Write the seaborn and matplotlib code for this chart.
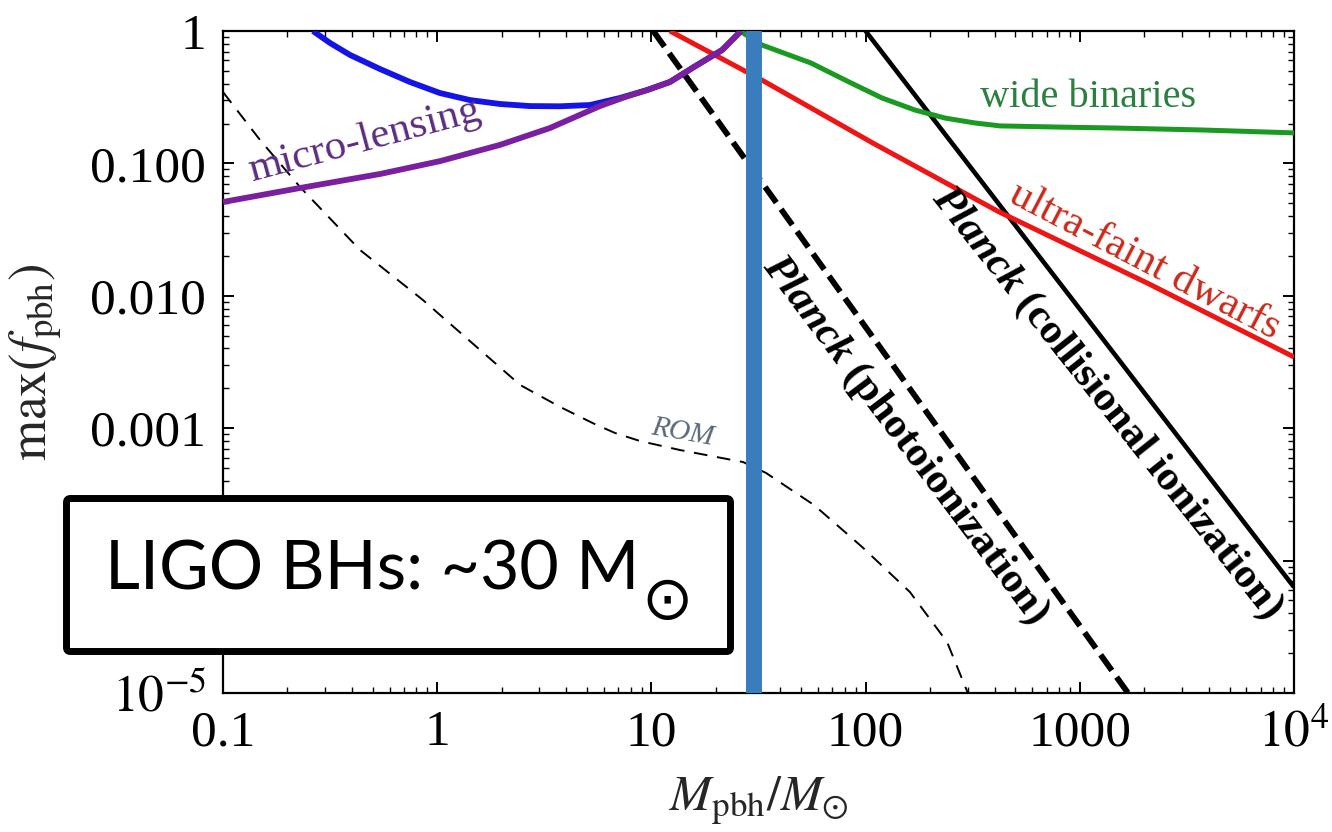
import numpy as np
import pandas as pd
import matplotlib
matplotlib.use("Agg")
import matplotlib.pyplot as plt
import seaborn as sns
from matplotlib.patches import FancyBboxPatch
from matplotlib.transforms import IdentityTransform
from matplotlib.ticker import FixedLocator, FixedFormatter, LogLocator, NullFormatter

# ---------------- data ----------------
micro_blue_mass = [0.263, 0.316, 0.392, 0.541, 0.746, 1.03, 1.42, 1.965, 2.71, 3.74, 5.17, 7.13,
                   9.54, 12.2, 15.8, 21.4, 26.2]
micro_blue_f = [1.0, 0.812, 0.659, 0.516, 0.412, 0.340, 0.301, 0.281, 0.271, 0.270, 0.276, 0.312,
                0.358, 0.412, 0.535, 0.719, 1.0]

micro_purple_mass = [0.1, 0.229, 0.541, 1.03, 1.965, 3.36, 5.75, 7.53, 9.54, 12.2, 15.8, 21.4, 26.2]
micro_purple_f = [0.0511, 0.0652, 0.0832, 0.104, 0.138, 0.185, 0.271, 0.317, 0.358, 0.412, 0.535,
                  0.719, 1.0]

ufd_mass = [12.2, 32.8, 108, 420, 2061, 10000]
ufd_f = [1.0, 0.426, 0.1426, 0.0430, 0.0125, 0.00345]

wb_mass = [25.9, 32.8, 55.6, 83.7, 119.3, 170, 235, 324, 424, 808, 1476, 3640, 10000]
wb_f = [1.0, 0.784, 0.573, 0.412, 0.312, 0.253, 0.220, 0.202, 0.192, 0.188, 0.185, 0.179, 0.170]

coll_mass = [100, 10000]
coll_f = [1.0, 6.3e-5]

photo_mass = [10.2, 1679]
photo_f = [1.0, 1e-5]

rom_mass = [0.1, 0.149, 0.229, 0.436, 0.858, 1.585, 2.44, 3.74, 5.34, 6.76, 8.85, 13.6, 26.8,
            34.3, 57.4, 96.2, 161, 240, 300]
rom_f = [0.346, 0.150, 0.0663, 0.0222, 0.00929, 0.00390, 0.00212, 0.00145, 0.00109, 0.000920,
         0.000800, 0.000684, 0.000555, 0.000459, 0.000263, 0.000127, 5.79e-5, 2.43e-5, 1e-5]

ligo_mass = 30

x_ticks = [0.1, 1, 10, 100, 1000, 1e4]
x_ticklabels = ['0.1', '1', '10', '100', '1000', r'$10^4$']
# the 1e-4 label is hidden behind the LIGO box in the reference
y_ticks = [1, 0.1, 0.01, 0.001, 1e-4, 1e-5]
y_ticklabels = ['1', '0.100', '0.010', '0.001', '', r'$10^{-5}$']

# ---------------- style ----------------
sns.set_theme(style="ticks")
plt.rcParams['font.family'] = ['Liberation Serif', 'DejaVu Serif']
plt.rcParams['mathtext.fontset'] = 'stix'
plt.rcParams['axes.edgecolor'] = 'black'
plt.rcParams['xtick.color'] = 'black'
plt.rcParams['ytick.color'] = 'black'

W, H = 1332, 832
fig = plt.figure(figsize=(W / 100, H / 100), dpi=100)
fig.patch.set_facecolor('white')
ax = fig.add_axes([223 / W, 1 - 693 / H, (1294 - 223) / W, (693 - 31) / H])
ax.set_xscale('log')
ax.set_yscale('log')


def draw(mass, f, color, lw, dashes=None, z=3):
    df = pd.DataFrame({'m': mass, 'f': f})
    sns.lineplot(data=df, x='m', y='f', ax=ax, color=color, linewidth=lw,
                 estimator=None, sort=False, zorder=z)
    line = ax.lines[-1]
    if dashes is not None:
        line.set_dashes(dashes)
    line.set_solid_capstyle('butt')
    line.set_dash_capstyle('butt')
    line.set_solid_joinstyle('round')


draw(rom_mass, rom_f, 'black', 1.4, dashes=(7, 5), z=2)
draw(photo_mass, photo_f, 'black', 4.2, dashes=(3.3, 1.4), z=3)
draw(coll_mass, coll_f, 'black', 3.3, z=3)
draw(wb_mass, wb_f, '#1b9a22', 3.6, z=3)
draw(ufd_mass, ufd_f, '#ee1515', 3.6, z=3)
draw(micro_blue_mass, micro_blue_f, '#1414e6', 4.2, z=4)
draw(micro_purple_mass, micro_purple_f, '#7a1fa0', 4.2, z=4)

ax.axvline(ligo_mass, color='#3a7dbf', lw=11.5, zorder=6, solid_capstyle='butt')

ax.set_xlim(0.1, 1e4)
ax.set_ylim(1e-5, 1)

ax.xaxis.set_major_locator(FixedLocator(x_ticks))
ax.xaxis.set_major_formatter(FixedFormatter(x_ticklabels))
ax.yaxis.set_major_locator(FixedLocator(y_ticks))
ax.yaxis.set_major_formatter(FixedFormatter(y_ticklabels))
for axis in (ax.xaxis, ax.yaxis):
    axis.set_minor_locator(LogLocator(base=10, subs=np.arange(2, 10), numticks=20))
    axis.set_minor_formatter(NullFormatter())

ax.tick_params(which='both', direction='in', top=True, right=True)
ax.tick_params(which='major', length=8, width=1.4, labelsize=37, pad=12)
ax.tick_params(which='minor', length=4, width=1.0)
for s in ax.spines.values():
    s.set_linewidth(1.6)
    s.set_color('black')

ax.set_xlabel(r'$M_{\mathrm{pbh}}/M_{\odot}$', fontsize=36, labelpad=12)
ax.set_ylabel(r'$\mathrm{max}(f_{\mathrm{pbh}})$', fontsize=38, labelpad=20)

# ---------------- curve labels ----------------
ax.text(0.46, 0.150, 'micro-lensing', color='#5b2d82', fontsize=31, rotation=15,
        ha='center', va='center', rotation_mode='anchor', zorder=7)
ax.text(1091, 0.317, 'wide binaries', color='#2a8040', fontsize=29,
        ha='center', va='center', zorder=7)
ax.text(2015, 0.0183, 'ultra-faint dwarfs', color='#cc2a1a', fontsize=31, rotation=-27.5,
        ha='center', va='center', rotation_mode='anchor', zorder=7)
ax.text(14.0, 0.00092, 'ROM', color='#5a6878', fontsize=21, style='italic', rotation=-10,
        ha='center', va='center', rotation_mode='anchor', zorder=7)


def two_part(xc, yc, parts, angle, fontsize, z=7):
    renderer = fig.canvas.get_renderer()
    widths = []
    for txt, style in parts:
        t = fig.text(0, 0, txt, fontsize=fontsize, fontweight='bold', fontstyle=style)
        widths.append(t.get_window_extent(renderer).width)
        t.remove()
    total = sum(widths)
    cx, cy = ax.transData.transform((xc, yc))
    th = np.deg2rad(angle)
    d = np.array([np.cos(th), np.sin(th)])
    pos = np.array([cx, cy]) - d * total / 2
    inv = ax.transData.inverted()
    for (txt, style), w in zip(parts, widths):
        xd, yd = inv.transform(pos)
        ax.text(xd, yd, txt, fontsize=fontsize, fontweight='bold', fontstyle=style,
                rotation=angle, rotation_mode='anchor', ha='left', va='center',
                color='black', zorder=z)
        pos = pos + d * w


two_part(1340, 0.00155, [('Planck', 'italic'), (' (collisional ionization)', 'normal')], -51.5, 31)
two_part(153, 0.000814, [('Planck', 'italic'), (' (photoionization)', 'normal')], -53.0, 31)

# ---------------- LIGO box ----------------
box = FancyBboxPatch((66.5, 180.5), 664, 153, boxstyle='round,pad=0,rounding_size=4',
                     transform=IdentityTransform(), facecolor='white', edgecolor='black',
                     linewidth=5, zorder=20)
fig.add_artist(box)
fig.text(105 / W, 242 / H, 'LIGO BHs: ~30 M', family=['Lato', 'DejaVu Sans'], fontsize=49,
         ha='left', va='baseline', color='black', zorder=21)
fig.text(667 / W, 230 / H, '\u2299', family=['DejaVu Sans'], fontsize=44,
         ha='center', va='center', color='black', zorder=21)

fig.savefig('out.png', dpi=100, facecolor='white')
